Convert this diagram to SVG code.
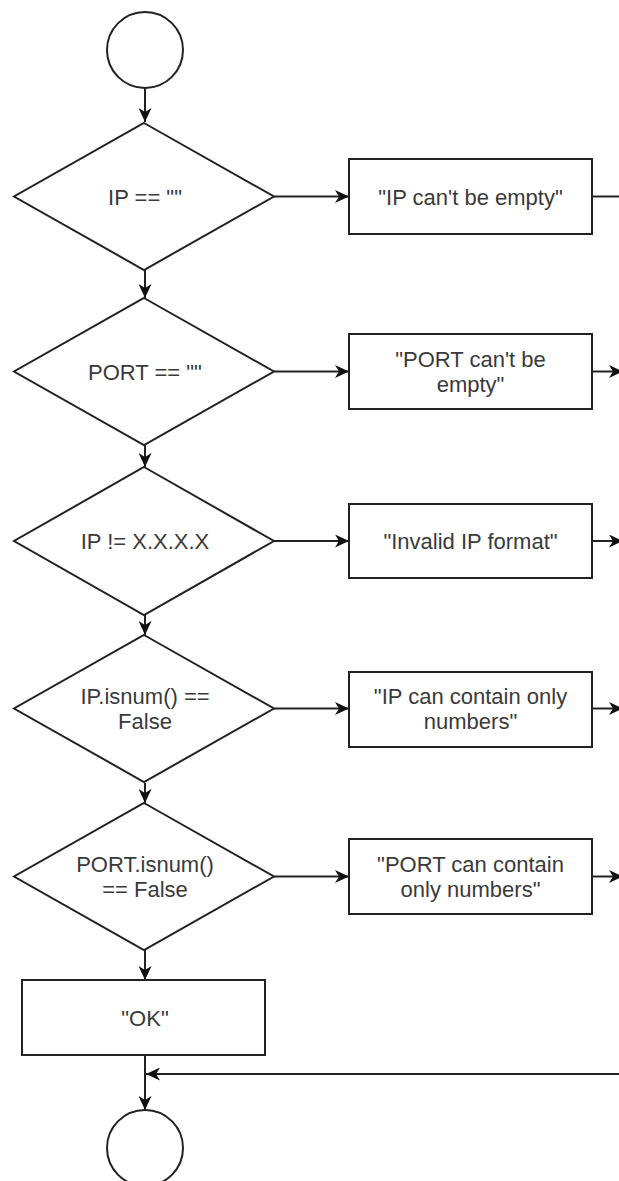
<svg xmlns="http://www.w3.org/2000/svg" width="619" height="1181" viewBox="0 0 619 1181">
<defs>
<marker id="arr" markerUnits="userSpaceOnUse" markerWidth="15" markerHeight="13" viewBox="0 0 15 13" refX="14" refY="6.5" orient="auto">
<path d="M0,0 L14,6.5 L0,13 L4,6.5 z" fill="#111"/>
</marker>
<style>
.s{fill:#fff;stroke:#222;stroke-width:2}
.c{fill:none;stroke:#222;stroke-width:2}
.t{font-family:"Liberation Sans",Arial,sans-serif;font-size:22px;fill:#3a3a3a;text-anchor:middle}
</style>
</defs>
<rect width="619" height="1181" fill="#fff"/>
<g id="connectors">
<line class="c" x1="145" y1="88" x2="145" y2="122" marker-end="url(#arr)"/>
<line class="c" x1="145" y1="270" x2="145" y2="298" marker-end="url(#arr)"/>
<line class="c" x1="145" y1="445" x2="145" y2="467" marker-end="url(#arr)"/>
<line class="c" x1="145" y1="615" x2="145" y2="635" marker-end="url(#arr)"/>
<line class="c" x1="145" y1="783" x2="145" y2="803" marker-end="url(#arr)"/>
<line class="c" x1="145" y1="950" x2="145" y2="980" marker-end="url(#arr)"/>
<line class="c" x1="145" y1="1055" x2="145" y2="1110" marker-end="url(#arr)"/>
<line class="c" x1="274" y1="196.5" x2="349" y2="196.5" marker-end="url(#arr)"/>
<line class="c" x1="274" y1="371.5" x2="349" y2="371.5" marker-end="url(#arr)"/>
<line class="c" x1="274" y1="541" x2="349" y2="541" marker-end="url(#arr)"/>
<line class="c" x1="274" y1="708.5" x2="349" y2="708.5" marker-end="url(#arr)"/>
<line class="c" x1="274" y1="876.5" x2="349" y2="876.5" marker-end="url(#arr)"/>
<line class="c" x1="592" y1="196.5" x2="619" y2="196.5"/>
<line class="c" x1="592" y1="371.5" x2="623" y2="371.5" marker-end="url(#arr)"/>
<line class="c" x1="592" y1="541" x2="623" y2="541" marker-end="url(#arr)"/>
<line class="c" x1="592" y1="708.5" x2="623" y2="708.5" marker-end="url(#arr)"/>
<line class="c" x1="592" y1="876.5" x2="623" y2="876.5" marker-end="url(#arr)"/>
<line class="c" x1="619" y1="1074" x2="146" y2="1074" marker-end="url(#arr)"/>
</g>
<g id="start"><ellipse class="s" cx="145" cy="50" rx="38" ry="38"/></g>
<g id="d1"><polygon class="s" points="144,123 274,196.5 144,270 14,196.5"/><text class="t" x="145" y="204.5">IP == ""</text></g>
<g id="r1"><rect class="s" x="349" y="159" width="243" height="75"/><text class="t" x="470.5" y="204.5">"IP can't be empty"</text></g>
<g id="d2"><polygon class="s" points="144,298 274,371.5 144,445 14,371.5"/><text class="t" x="145" y="379.5">PORT == ""</text></g>
<g id="r2"><rect class="s" x="349" y="334" width="243" height="75"/><text class="t" x="470.5" y="367">"PORT can't be</text><text class="t" x="470.5" y="392">empty"</text></g>
<g id="d3"><polygon class="s" points="144,467 274,541 144,615 14,541"/><text class="t" x="145" y="549">IP != X.X.X.X</text></g>
<g id="r3"><rect class="s" x="349" y="504" width="243" height="74"/><text class="t" x="470.5" y="549">"Invalid IP format"</text></g>
<g id="d4"><polygon class="s" points="144,635 274,708.5 144,782 14,708.5"/><text class="t" x="145" y="704">IP.isnum() ==</text><text class="t" x="145" y="729">False</text></g>
<g id="r4"><rect class="s" x="349" y="672" width="243" height="75"/><text class="t" x="470.5" y="704">"IP can contain only</text><text class="t" x="470.5" y="729">numbers"</text></g>
<g id="d5"><polygon class="s" points="144,803 274,876.5 144,950 14,876.5"/><text class="t" x="145" y="872">PORT.isnum()</text><text class="t" x="145" y="897">== False</text></g>
<g id="r5"><rect class="s" x="349" y="839" width="243" height="75"/><text class="t" x="470.5" y="872">"PORT can contain</text><text class="t" x="470.5" y="897">only numbers"</text></g>
<g id="ok"><rect class="s" x="22" y="980" width="243" height="75"/><text class="t" x="145" y="1025.5">"OK"</text></g>
<g id="end"><ellipse class="s" cx="145" cy="1148" rx="38" ry="38"/></g>
</svg>
